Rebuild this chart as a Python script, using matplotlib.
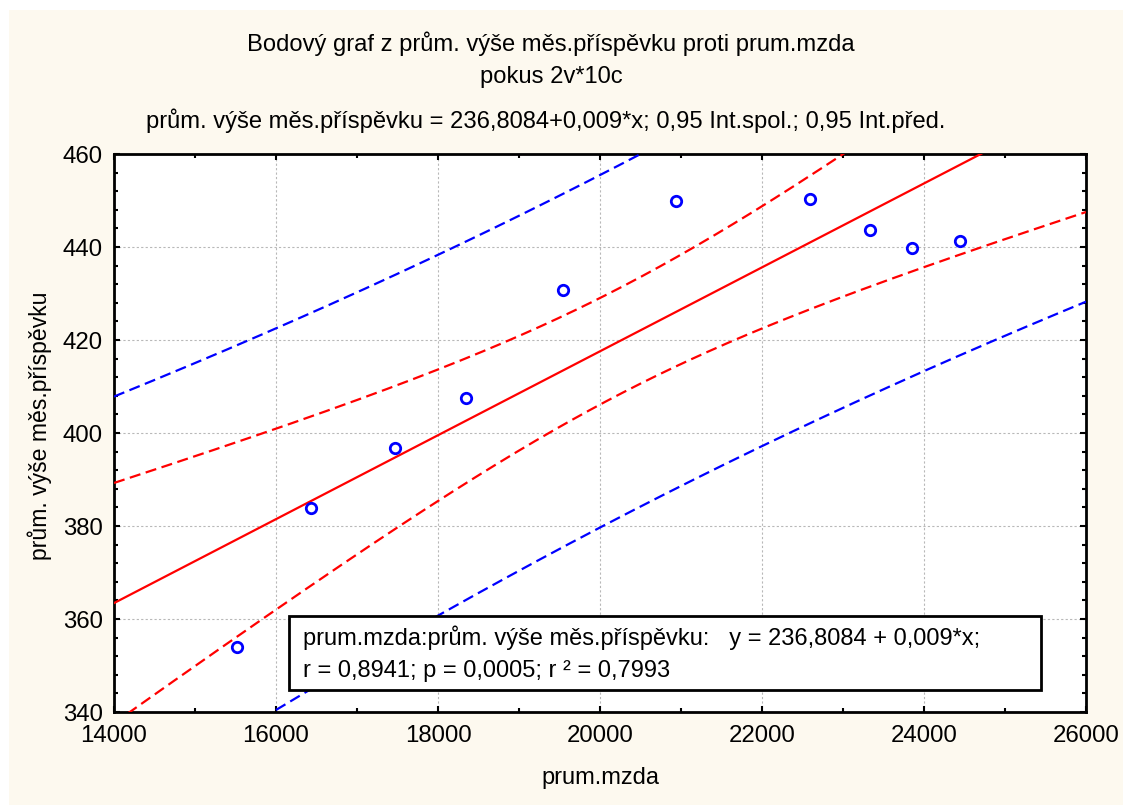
import numpy as np
import matplotlib
matplotlib.use("Agg")
import matplotlib.pyplot as plt
from matplotlib.patches import Rectangle
from matplotlib.ticker import MultipleLocator

# data
mzda = [15518, 16432, 17469, 18346, 19543, 20938, 22593, 23333, 23852, 24444]
prispevek = [354.0, 383.9, 396.8, 407.5, 430.8, 449.9, 450.3, 443.7, 439.8, 441.3]

title_lines = [
    "Bodový graf z prům. výše měs.příspěvku proti prum.mzda",
    "pokus 2v*10c",
    "prům. výše měs.příspěvku = 236,8084+0,009*x; 0,95 Int.spol.; 0,95 Int.před.",
]
xlabel = "prum.mzda"
ylabel = "prům. výše měs.příspěvku"
box_line1 = "prum.mzda:prům. výše měs.příspěvku:   y = 236,8084 + 0,009*x;"
box_line2 = "r = 0,8941; p = 0,0005; r ² = 0,7993"
t_crit = 2.306  # t(0.975, 8)

plt.rcParams['font.family'] = ['Liberation Sans', 'DejaVu Sans']

x = np.array(mzda, float)
y = np.array(prispevek, float)
n = len(x)
b, a = np.polyfit(x, y, 1)
res = y - (a + b * x)
s = np.sqrt(np.sum(res ** 2) / (n - 2))
sxx = np.sum((x - x.mean()) ** 2)

xs = np.linspace(14000, 26000, 400)
yh = a + b * xs
se_mean = s * np.sqrt(1 / n + (xs - x.mean()) ** 2 / sxx)
se_pred = s * np.sqrt(1 + 1 / n + (xs - x.mean()) ** 2 / sxx)

W, H = 1123, 805
fig = plt.figure(figsize=(W / 100, H / 100), dpi=100, facecolor='white')
cream = '#FDF9EF'
fig.patches.append(Rectangle((9 / W, 0), 1 - 9 / W, 1 - 10 / H, transform=fig.transFigure,
                             facecolor=cream, edgecolor='none', zorder=-10))

L, R, T, B = 114, 1086, 154, 712
ax = fig.add_axes([L / W, 1 - B / H, (R - L) / W, (B - T) / H])
ax.set_facecolor('white')

dash = (0, (5, 2.5))
ax.plot(xs, yh, color='red', lw=1.6, zorder=3)
ax.plot(xs, yh + t_crit * se_mean, color='red', lw=1.6, ls=dash, zorder=3)
ax.plot(xs, yh - t_crit * se_mean, color='red', lw=1.6, ls=dash, zorder=3)
ax.plot(xs, yh + t_crit * se_pred, color='blue', lw=1.6, ls=dash, zorder=3)
ax.plot(xs, yh - t_crit * se_pred, color='blue', lw=1.6, ls=dash, zorder=3)
ax.plot(x, y, 'o', ms=7.5, mfc='none', mec='blue', mew=2, zorder=4)

ax.set_xlim(14000, 26000)
ax.set_ylim(340, 460)
ax.xaxis.set_major_locator(MultipleLocator(2000))
ax.xaxis.set_minor_locator(MultipleLocator(1000))
ax.yaxis.set_major_locator(MultipleLocator(20))
ax.yaxis.set_minor_locator(MultipleLocator(4))
ax.tick_params(which='both', direction='in', top=True, right=True, width=1.5,
               labelsize=17.3, colors='black')
ax.tick_params(axis='y', which='both', pad=8)
ax.tick_params(axis='x', which='both', pad=9)
ax.tick_params(which='major', length=4.5)
ax.tick_params(which='minor', length=3)
ax.grid(True, which='major', color='#b8b8b8', ls=(0, (2, 2)), lw=0.8)
for sp in ax.spines.values():
    sp.set_linewidth(2)

fig.text(600 / W, 1 - 778 / H, xlabel, ha='center', va='center', fontsize=17)
fig.text(40 / W, 1 - 426 / H, ylabel, ha='center', va='center', fontsize=16.6, rotation=90)

# title lines
for txt, xx, yy in zip(title_lines, [551, 551, 546], [44, 77, 121]):
    fig.text(xx / W, 1 - yy / H, txt, ha='center', va='center', fontsize=17.1)

# annotation box
ax.add_patch(Rectangle((0.180, 0.0394), 0.954 - 0.180, 0.172 - 0.0394, transform=ax.transAxes,
                       facecolor='white', edgecolor='black', lw=2, zorder=5))
ax.text(0.1944, 0.1326, box_line1, transform=ax.transAxes, ha='left', va='center',
        fontsize=17, zorder=6)
ax.text(0.1944, 0.0735, box_line2, transform=ax.transAxes, ha='left', va='center',
        fontsize=17, zorder=6)

fig.savefig('out.png', dpi=100, facecolor='white')
